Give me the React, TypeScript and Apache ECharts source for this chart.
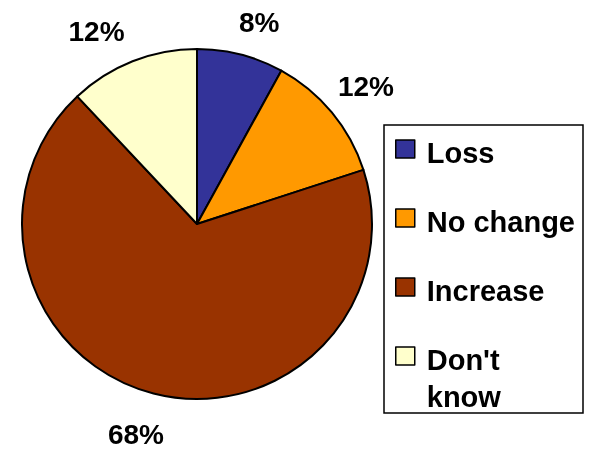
import React, { useEffect, useRef } from 'react';
import * as echarts from 'echarts';

const categories = ['Loss', 'No change', 'Increase', "Don't know"];
const values = [8, 12, 68, 12];
const colors = ['#333399', '#FF9900', '#993300', '#FFFFCC'];
const legendLabels = ['Loss\n{s| }', 'No change\n{s| }', 'Increase\n{s| }', "Don't\nknow"];

export default function App() {
  const ref = useRef<HTMLDivElement>(null);
  useEffect(() => {
    const chart = echarts.init(ref.current!, null, { renderer: 'svg' });
    const font = 'Arial, "Liberation Sans", sans-serif';
    const labelShift: Record<number, [number, number]> = {
      0: [-14, -3],
      1: [-22, -7],
      2: [23, 12],
      3: [8, -2],
    };
    chart.setOption({
      animation: false,
      graphic: [
        {
          type: 'rect',
          shape: { x: 384, y: 125, width: 199, height: 288 },
          style: { fill: 'none', stroke: '#000', lineWidth: 1.5 },
          silent: true,
        },
      ],
      legend: {
        orient: 'vertical',
        left: 395,
        top: 89.5,
        padding: 0,
        itemGap: -50,
        itemWidth: 19,
        itemHeight: 18,
        icon: 'rect',
        selectedMode: false,
        data: categories,
        formatter: (name: string) => '{t| }\n' + legendLabels[categories.indexOf(name)],
        textStyle: {
          fontSize: 29,
          fontWeight: 'bold',
          fontFamily: font,
          color: '#000',
          lineHeight: 37,
          padding: [0, 0, 0, 7],
          rich: {
            t: { lineHeight: 45, fontSize: 10 },
            s: { lineHeight: 37, fontSize: 10 },
          },
        },
        itemStyle: { borderColor: '#000', borderWidth: 1.5 },
      },
      series: [
        {
          type: 'pie',
          center: [197, 224],
          radius: 175,
          startAngle: 90,
          clockwise: true,
          silent: true,
          data: categories.map((c, i) => ({ name: c, value: values[i], itemStyle: { color: colors[i] } })),
          itemStyle: { borderColor: '#000', borderWidth: 2 },
          label: {
            show: true,
            position: 'outside',
            formatter: '{c}%',
            fontSize: 28,
            fontWeight: 'bold',
            fontFamily: font,
            color: '#000',
            lineHeight: 28,
          },
          labelLine: { show: false, length: 30, length2: 0 },
          labelLayout: (params: any) => {
            const s = labelShift[params.dataIndex] || [0, 0];
            return { dx: s[0], dy: s[1] };
          },
          emphasis: { disabled: true },
        },
      ],
    });
    return () => chart.dispose();
  }, []);
  return <div ref={ref} style={{ position: 'fixed', left: 0, top: 0, width: 590, height: 451 }} />;
}
